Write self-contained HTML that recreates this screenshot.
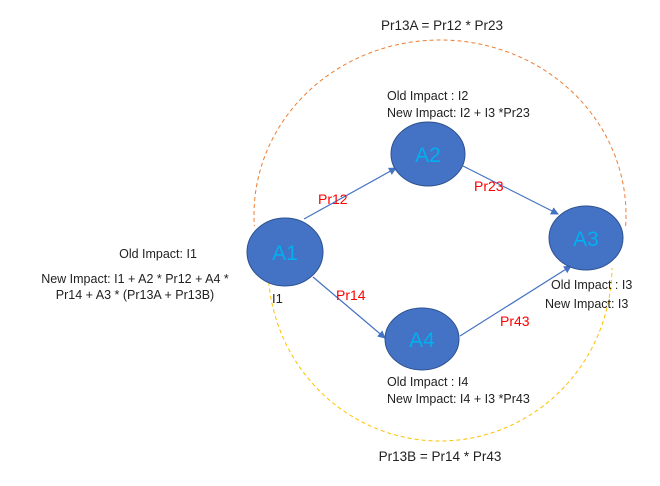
<!DOCTYPE html>
<html><head><style>
html,body{margin:0;padding:0;background:#fff;}
svg{display:block;font-family:"Liberation Sans",sans-serif;}
</style></head><body>
<svg width="660" height="486" viewBox="0 0 660 486" xmlns="http://www.w3.org/2000/svg">
<defs>
<clipPath id="top"><rect x="0" y="0" width="660" height="226"/></clipPath>
<clipPath id="bot"><rect x="0" y="268" width="660" height="218"/></clipPath>
<marker id="ar" markerWidth="8" markerHeight="8" refX="7" refY="4" orient="auto" markerUnits="userSpaceOnUse">
<path d="M0,0 L8,4 L0,8 z" fill="#4472c4"/></marker>
</defs>
<ellipse cx="440" cy="215" rx="186" ry="175" fill="none" stroke="#ed7d31" stroke-width="1" stroke-dasharray="4,3" clip-path="url(#top)"/>
<ellipse cx="440" cy="266" rx="172" ry="175" fill="none" stroke="#ffc000" stroke-width="1" stroke-dasharray="4,3" clip-path="url(#bot)"/>
<g stroke="#4472c4" stroke-width="1.2" fill="none">
<line x1="304" y1="219" x2="396" y2="168" marker-end="url(#ar)"/>
<line x1="463" y1="166" x2="558" y2="214" marker-end="url(#ar)"/>
<line x1="313" y1="277" x2="385" y2="338" marker-end="url(#ar)"/>
<line x1="460" y1="336" x2="571" y2="266" marker-end="url(#ar)"/>
</g>
<g fill="#4472c4" stroke="#2f528f" stroke-width="1">
<ellipse cx="285" cy="252" rx="38" ry="34"/>
<ellipse cx="428" cy="154" rx="37" ry="32"/>
<ellipse cx="586" cy="238" rx="37" ry="32"/>
<ellipse cx="422" cy="339" rx="37" ry="31"/>
</g>
<g fill="#00b0f0" font-size="21" text-anchor="middle">
<text x="285" y="260">A1</text>
<text x="428" y="162">A2</text>
<text x="586" y="246">A3</text>
<text x="422" y="347">A4</text>
</g>
<g fill="#ff0000" font-size="14">
<text x="318" y="204">Pr12</text>
<text x="474" y="191">Pr23</text>
<text x="336" y="300">Pr14</text>
<text x="500" y="326">Pr43</text>
</g>
<g fill="#222" font-size="12.5">
<text x="387" y="100">Old Impact : I2</text>
<text x="387" y="117">New Impact: I2 + I3 *Pr23</text>
<text x="387" y="386">Old Impact : I4</text>
<text x="387" y="403">New Impact: I4 + I3 *Pr43</text>
<text x="551" y="289">Old Impact : I3</text>
<text x="545" y="308">New Impact: I3</text>
<text x="158" y="258" text-anchor="middle">Old Impact: I1</text>
<text x="135" y="283" text-anchor="middle">New Impact: I1 + A2 * Pr12 + A4 *</text>
<text x="135" y="299" text-anchor="middle">Pr14 + A3 * (Pr13A + Pr13B)</text>
<text x="272" y="303" font-size="13">I1</text>
</g>
<g fill="#222" font-size="13.5" text-anchor="middle">
<text x="442" y="30">Pr13A = Pr12 * Pr23</text>
<text x="440" y="461">Pr13B = Pr14 * Pr43</text>
</g>
</svg>
</body></html>
